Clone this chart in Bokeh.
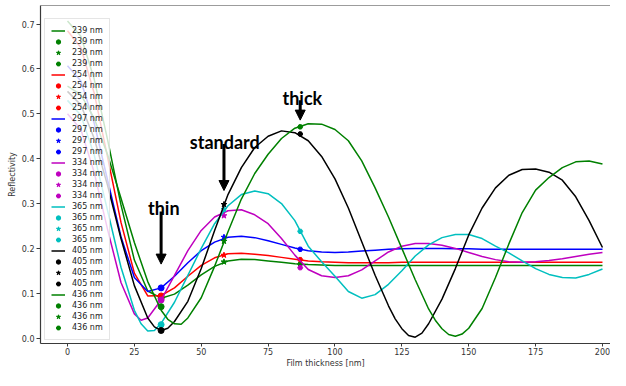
from bokeh.plotting import figure
from bokeh.models import (Legend, LegendItem, Range1d, FixedTicker, PrintfTickFormatter,
                          Arrow, NormalHead, Span)
from bokeh.core.properties import value
from bokeh.embed import file_html
from bokeh.resources import INLINE

# ---------------- data ----------------
labels = ["239 nm", "254 nm", "297 nm", "334 nm", "365 nm", "405 nm", "436 nm"]

# flat-ish curves, read every 5 nm
t_std = [0, 5, 10, 15, 20, 25, 30, 35, 40, 45, 50, 55, 60, 65, 70, 75, 80, 85, 90, 95,
         100, 105, 110, 115, 120, 125, 130, 135, 140, 145, 150, 155, 160, 165, 170, 175,
         180, 185, 190, 195, 200]
r239 = [0.707, 0.673, 0.577, 0.442, 0.297, 0.174, 0.105, 0.089, 0.098, 0.118, 0.141, 0.160,
        0.172, 0.176, 0.175, 0.172, 0.169, 0.166, 0.164, 0.163, 0.162, 0.162, 0.162, 0.162,
        0.162, 0.162, 0.162, 0.162, 0.162, 0.162, 0.162, 0.162, 0.162, 0.162, 0.162, 0.162,
        0.162, 0.162, 0.162, 0.162, 0.162]
r254 = [0.685, 0.648, 0.546, 0.403, 0.258, 0.145, 0.094, 0.095, 0.112, 0.138, 0.162, 0.179,
        0.188, 0.189, 0.187, 0.184, 0.180, 0.176, 0.172, 0.170, 0.169, 0.168, 0.168, 0.168,
        0.168, 0.169, 0.169, 0.169, 0.169, 0.169, 0.169, 0.169, 0.169, 0.169, 0.169, 0.169,
        0.169, 0.169, 0.169, 0.169, 0.169]
r297 = [0.607, 0.573, 0.479, 0.352, 0.226, 0.135, 0.104, 0.112, 0.138, 0.168, 0.195, 0.214,
        0.225, 0.227, 0.224, 0.217, 0.209, 0.201, 0.195, 0.192, 0.191, 0.192, 0.194, 0.196,
        0.198, 0.199, 0.200, 0.200, 0.200, 0.199, 0.199, 0.198, 0.198, 0.198, 0.198, 0.198,
        0.198, 0.198, 0.198, 0.198, 0.198]

# oscillating curves, read every 5 nm plus extra readings around the minima
t334 = [0, 5, 10, 15, 20, 25, 27.5, 30, 35, 40, 45, 50, 55, 60, 65, 70, 75, 80, 85, 90, 95,
        100, 105, 110, 115, 120, 125, 130, 135, 140, 145, 150, 155, 160, 165, 170, 175,
        180, 185, 190, 195, 200]
r334 = [0.500, 0.465, 0.369, 0.242, 0.124, 0.054, 0.040, 0.045, 0.085, 0.140, 0.195, 0.240,
        0.270, 0.284, 0.286, 0.275, 0.255, 0.222, 0.185, 0.153, 0.139, 0.135, 0.139, 0.152,
        0.172, 0.192, 0.205, 0.211, 0.211, 0.207, 0.200, 0.191, 0.182, 0.175, 0.170, 0.169,
        0.170, 0.173, 0.177, 0.182, 0.187, 0.191]
t365 = [0, 5, 10, 15, 20, 25, 27.5, 30, 32.5, 35, 40, 45, 50, 55, 60, 65, 70, 75, 80, 85,
        90, 95, 100, 105, 110, 115, 120, 125, 130, 135, 140, 145, 150, 155, 160, 165, 170,
        175, 180, 185, 190, 195, 200]
r365 = [0.530, 0.497, 0.408, 0.284, 0.158, 0.062, 0.032, 0.016, 0.017, 0.033, 0.080, 0.140,
        0.200, 0.255, 0.295, 0.320, 0.328, 0.322, 0.300, 0.262, 0.205, 0.170, 0.138, 0.104,
        0.089, 0.097, 0.120, 0.150, 0.183, 0.208, 0.224, 0.231, 0.231, 0.222, 0.205, 0.190,
        0.172, 0.155, 0.142, 0.135, 0.134, 0.142, 0.154]
t405 = [0, 5, 10, 15, 20, 25, 30, 32.5, 35, 37.5, 40, 45, 50, 55, 60, 65, 70, 75, 80, 85,
        90, 95, 100, 105, 110, 115, 120, 122.5, 125, 127.5, 130, 132.5, 135, 140, 145, 150,
        155, 160, 165, 170, 175, 180, 185, 190, 195, 200]
r405 = [0.550, 0.520, 0.445, 0.340, 0.222, 0.117, 0.045, 0.025, 0.017, 0.022, 0.037, 0.082,
        0.155, 0.240, 0.320, 0.380, 0.425, 0.450, 0.462, 0.458, 0.440, 0.405, 0.355, 0.290,
        0.215, 0.140, 0.072, 0.043, 0.021, 0.006, 0.002, 0.011, 0.032, 0.087, 0.155, 0.230,
        0.290, 0.335, 0.363, 0.376, 0.377, 0.370, 0.352, 0.315, 0.262, 0.202]
t436 = [0, 5, 10, 15, 20, 25, 30, 35, 37.5, 40, 42.5, 45, 50, 55, 60, 65, 70, 75, 80, 85,
        90, 95, 100, 105, 110, 115, 120, 125, 130, 135, 137.5, 140, 142.5, 145, 147.5, 150,
        155, 160, 165, 170, 175, 180, 185, 190, 195, 200]
r436 = [0.562, 0.543, 0.490, 0.409, 0.312, 0.213, 0.126, 0.062, 0.042, 0.032, 0.031, 0.045,
        0.090, 0.160, 0.237, 0.310, 0.367, 0.410, 0.445, 0.468, 0.478, 0.477, 0.465, 0.440,
        0.395, 0.335, 0.270, 0.200, 0.130, 0.065, 0.040, 0.021, 0.008, 0.004, 0.009, 0.022,
        0.066, 0.135, 0.210, 0.280, 0.330, 0.358, 0.380, 0.393, 0.395, 0.388]

# chosen film thicknesses (thin / standard / thick) and reflectivity there
film_names = ["thin", "standard", "thick"]
film_thickness = [35, 58.5, 87]
marker_thin = [0.089, 0.094, 0.112, 0.085, 0.030, 0.017, 0.070]
marker_standard = [0.170, 0.185, 0.225, 0.273, 0.287, 0.298, 0.216]
marker_thick = [0.165, 0.175, 0.198, 0.157, 0.238, 0.455, 0.471]

x_ticks = [0, 25, 50, 75, 100, 125, 150, 175, 200]
y_ticks = [0.0, 0.1, 0.2, 0.3, 0.4, 0.5, 0.6, 0.7]

# ---------------- styles ----------------
colors = ["#008000", "#ff0000", "#0000ff", "#bf00bf", "#00bfbf", "#000000", "#008000"]
xs = [t_std, t_std, t_std, t334, t365, t405, t436]
curves = [r239, r254, r297, r334, r365, r405, r436]
FONT = "DejaVu Sans"
SPINE = "#3a3a3a"
TXT = "#333333"

p = figure(width=610, height=370, output_backend="svg", toolbar_location=None,
           x_range=Range1d(-10.09, 203.0), y_range=Range1d(-0.012, 0.7415),
           min_border_left=40, min_border_right=0, min_border_top=5, min_border_bottom=20,
           background_fill_color="white", border_fill_color="white")
p.outline_line_color = None
p.grid.visible = False

for ax in (p.xaxis[0], p.yaxis[0]):
    ax.axis_line_color = SPINE
    ax.axis_line_width = 1.2
    ax.major_tick_line_color = SPINE
    ax.major_tick_out = 4
    ax.major_tick_in = 0
    ax.minor_tick_out = 0
    ax.minor_tick_in = 0
    ax.major_label_text_font = FONT
    ax.major_label_text_font_size = "8px"
    ax.major_label_text_color = TXT
    ax.axis_label_text_font = FONT
    ax.axis_label_text_font_size = "8px"
    ax.axis_label_text_font_style = "normal"
    ax.axis_label_text_color = TXT
    ax.major_label_standoff = 2
    ax.axis_label_standoff = 2
p.xaxis.major_tick_out = 3
p.xaxis.major_label_standoff = 1
p.xaxis.axis_label_standoff = 1

p.xaxis.ticker = FixedTicker(ticks=x_ticks)
p.yaxis.ticker = FixedTicker(ticks=y_ticks)
p.yaxis.formatter = PrintfTickFormatter(format="%.1f")
p.xaxis.axis_label = "Film thickness [nm]"
p.yaxis.axis_label = "Reflectivity"

# top spine
p.add_layout(Span(location=p.y_range.end, dimension="width", line_color=SPINE, line_width=1.2))

items = []
for i, lab in enumerate(labels):
    c = colors[i]
    lr = p.line(xs[i], curves[i], line_color=c, line_width=1.5)
    cr = p.scatter([film_thickness[0]], [marker_thin[i]], marker="circle", size=6,
                   fill_color=c, line_color=c)
    sr = p.scatter([film_thickness[1]], [marker_standard[i]], marker="star", size=6,
                   fill_color=c, line_color=c)
    hr = p.scatter([film_thickness[2]], [marker_thick[i]], marker="hex", size=5,
                   fill_color=c, line_color=c)
    items += [LegendItem(label=lab, renderers=[lr]),
              LegendItem(label=lab, renderers=[cr]),
              LegendItem(label=lab, renderers=[sr]),
              LegendItem(label=lab, renderers=[hr])]

legend = Legend(items=items, location=(4, 3), orientation="vertical",
                label_text_font=FONT, label_text_font_size="8px", label_text_color="#222222",
                label_height=11, glyph_height=11, glyph_width=14, spacing=0,
                label_standoff=7, padding=6, margin=0,
                background_fill_color="white", background_fill_alpha=0.8,
                border_line_color="#cccccc", border_line_width=1)
p.add_layout(legend)

# annotations
ann_text_y = [0.289, 0.437, 0.535]
arrow_top = [0.282, 0.433, 0.530]
arrow_tip = [0.165, 0.329, 0.486]
ann_dx = [1.0, 0.3, 0.8]
p.text(x=[film_thickness[k] + ann_dx[k] for k in range(3)], y=ann_text_y, text=film_names,
       text_font=value("Lato"), text_font_style="bold", text_font_size="18px",
       text_align="center", text_baseline="alphabetic", text_color="black")
for k in range(3):
    p.add_layout(Arrow(end=NormalHead(size=10, fill_color="black", line_color="black"),
                       x_start=film_thickness[k], y_start=arrow_top[k],
                       x_end=film_thickness[k], y_end=arrow_tip[k],
                       line_color="black", line_width=3))

open("out.html", "w").write(file_html(p, INLINE))
